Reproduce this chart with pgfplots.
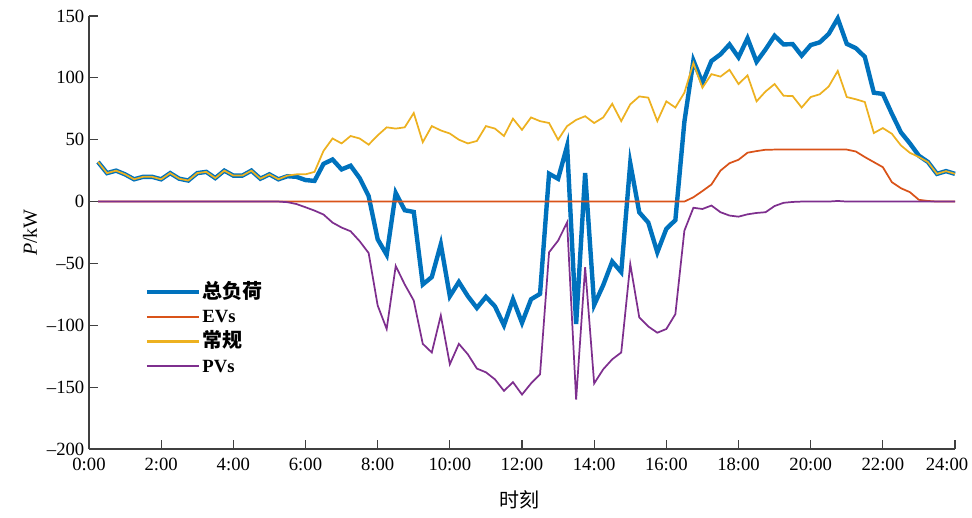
\documentclass[border=0pt]{standalone}
\usepackage{pgfplots}
\pgfplotsset{compat=1.18}
\usepackage{pgfplotstable}
\usepackage{fontspec}
\setmainfont{Liberation Serif}
\newfontfamily\cjk{Noto Sans CJK SC}
\definecolor{mblue}{rgb}{0,0.447,0.741}
\definecolor{morange}{rgb}{0.85,0.325,0.098}
\definecolor{myellow}{rgb}{0.929,0.694,0.125}
\definecolor{mpurple}{rgb}{0.494,0.184,0.556}
\pgfplotstableread{
t total ev conv pv
0.25 32 0 32 0
0.5 23 0 23 0
0.75 25 0 25 0
1.0 22 0 22 0
1.25 18 0 18 0
1.5 20 0 20 0
1.75 20 0 20 0
2.0 18 0 18 0
2.25 23 0 23 0
2.5 18.5 0 18.5 0
2.75 17 0 17 0
3.0 23 0 23 0
3.25 24 0 24 0
3.5 19 0 19 0
3.75 25 0 25 0
4.0 21 0 21 0
4.25 21 0 21 0
4.5 25 0 25 0
4.75 18.5 0 18.5 0
5.0 22 0 22 0
5.25 18 0 18 0
5.5 20.5 0 21 -0.5
5.75 20 0 22 -2
6.0 17.4 0 22 -4.6
6.25 16.7 0 24 -7.3
6.5 30.5 0 41 -10.5
6.75 34 0 51 -17
7.0 26 0 47 -21
7.25 29 0 53 -24
7.5 19 0 51 -32
7.75 4.4 0 46 -41.6
8.0 -30.5 0 53.5 -84
8.25 -43 0 60 -103
8.5 7 0 59 -52
8.75 -7 0 60 -67
9.0 -8.4 0 71.6 -80
9.25 -67 0 48 -115
9.5 -61 0 61 -122
9.75 -34.5 0 57.5 -92
10.0 -76.5 0 55 -131.5
10.25 -65 0 50 -115
10.5 -76.5 0 47 -123.5
10.75 -86 0 49 -135
11.0 -77 0 61 -138
11.25 -84.7 0 59 -143.7
11.5 -100 0 53 -153
11.75 -79 0 67 -146
12.0 -98 0 58 -156
12.25 -79 0 68 -147
12.5 -74.6 0 65 -139.6
12.75 22.5 0 63.5 -41
13.0 18.4 0 50 -31.6
13.25 45 0 61 -16.8
13.5 -99 0 66 -160
13.75 23 0 69 -53
14.0 -83.5 0 63.5 -147
14.25 -67.6 0 68 -135.6
14.5 -48.5 0 79 -127.5
14.75 -57 0 65 -122
15.0 31 0 78.6 -50.5
15.25 -8.7 0 85 -93.7
15.5 -17 0 84 -101
15.75 -41 0 65 -106
16.0 -22 0 81 -103
16.25 -15 0 76 -91
16.5 64.5 0 88 -23.5
16.75 114 3.5 112 -5
17.0 96 8.5 92 -6
17.25 113.6 13.8 103 -3.2
17.5 119 25 101 -8.6
17.75 127 31 106.5 -11.3
18.0 116.6 33.8 95 -12.2
18.25 132 39.5 102 -10.3
18.5 113 40.8 81 -9.2
18.75 123 41.9 89 -8.6
19.0 134 42 95 -3.6
19.25 127 42 85.5 -1
19.5 127.3 42 85.3 -0.3
19.75 118 42 76 0
20.0 126.5 42 84.5 0
20.25 128.7 42 86.7 0
20.5 135.5 42 93 0
20.75 148 42 105.6 0.5
21.0 127.5 42 84.5 0
21.25 124 40.5 82.7 0
21.5 117 36 80.5 0
21.75 88 31.9 55.4 0
22.0 87 27.8 59.4 0
22.25 71 15.7 54.8 0
22.5 56 10.8 45.4 0
22.75 47 7.6 39.4 0
23.0 37 1.4 36 0
23.25 32 0.5 31.9 0
23.5 22.4 0 22.4 0
23.75 24.6 0 24.6 0
24.0 22.4 0 22.4 0
}\datatable
\begin{document}
\begin{tikzpicture}
\begin{axis}[
  width=649.5pt, height=324.75pt, scale only axis,
  xmin=0, xmax=24, ymin=-200, ymax=150,
  axis lines=left,
  axis line style={-, black!75, line width=0.8pt},
  tick align=inside, major tick length=6.5pt,
  tick style={black!75, line width=0.8pt},
  xtick={0,2,...,24},
  xticklabels={0:00,2:00,4:00,6:00,8:00,10:00,12:00,14:00,16:00,18:00,20:00,22:00,{\makebox[0pt]{\kern-12pt 24:00}}},
  ytick={-200,-150,-100,-50,0,50,100,150},
  yticklabels={--200,--150,--100,--50,0,50,100,150},
  ticklabel style={font=\fontsize{14}{14}\selectfont},
  xticklabel style={yshift=-3.5pt},
  xlabel={\cjk 时刻},
  ylabel={\textit{P}/kW},
  xlabel style={font=\fontsize{15}{15}\selectfont, at={(axis description cs:0.497,-0.118)}, anchor=center},
  ylabel style={font=\fontsize{15}{15}\selectfont, at={(axis description cs:-0.068,0.5)}, anchor=center, rotate=0},
  legend style={draw=none, fill=none, at={(0.064,0.386)}, anchor=north west,
    font=\fontsize{14}{14}\selectfont, row sep=2.5pt, inner sep=0pt,
    nodes={inner sep=1pt, text height=11pt, text depth=3pt},
    cells={anchor=west}},
  legend image code/.code={\draw[#1] (0pt,0.5pt) -- (39pt,0.5pt);},
  clip=false,
]
\addlegendimage{mblue, line width=3.3pt}
\addlegendentry{{\cjk\bfseries\fontsize{15}{15}\selectfont 总负荷}}
\addlegendimage{morange, line width=1.8pt}
\addlegendentry{\textbf{EVs}}
\addlegendimage{myellow, line width=1.8pt}
\addlegendentry{{\cjk\bfseries\fontsize{15}{15}\selectfont 常规}}
\addlegendimage{mpurple, line width=1.8pt}
\addlegendentry{\textbf{PVs}}
\addplot[mblue, line width=3.3pt, forget plot] table[x=t, y=total] {\datatable};
\addplot[morange, line width=1.3pt, forget plot] table[x=t, y=ev] {\datatable};
\addplot[myellow, line width=1.3pt, forget plot] table[x=t, y=conv] {\datatable};
\addplot[mpurple, line width=1.3pt, forget plot] table[x=t, y=pv] {\datatable};
\end{axis}
\pgfresetboundingbox
\path[use as bounding box] ([xshift=-66.75pt,yshift=-51pt]current axis.south west) rectangle ([xshift=12.75pt,yshift=12pt]current axis.north east);
\end{tikzpicture}
\end{document}
